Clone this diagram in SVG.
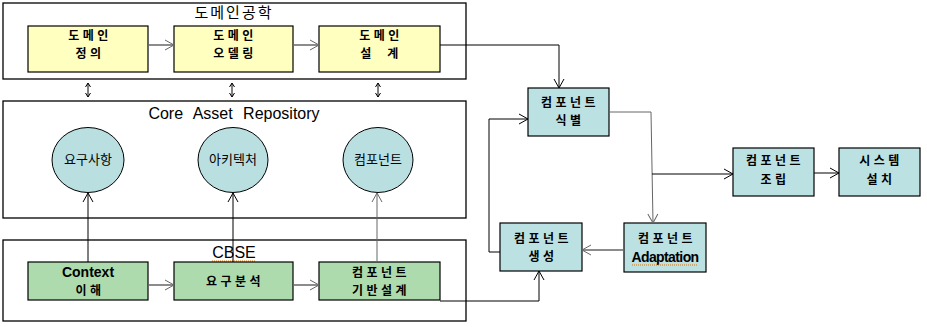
<svg xmlns="http://www.w3.org/2000/svg" width="927" height="327" viewBox="0 0 927 327">
<style>
.cont{fill:#fff;stroke:#000;stroke-width:1.3}
.yel{fill:#FFFFC0;stroke:#000;stroke-width:1.2}
.grn{fill:#ADDBAD;stroke:#000;stroke-width:1.2}
.cyn{fill:#BCE1E3;stroke:#000;stroke-width:1.2}
.cir{fill:#B9DFE1;stroke:#000;stroke-width:1}
.title{font-family:"Liberation Sans","Noto Sans CJK KR",sans-serif;font-size:15px;fill:#000;text-anchor:middle}
.lbl{font-family:"Noto Sans CJK KR","Liberation Sans",sans-serif;font-size:12px;font-weight:bold;fill:#000;text-anchor:middle;letter-spacing:3.5px}
.lat{font-family:"Liberation Sans","Noto Sans CJK KR",sans-serif;font-size:14px;font-weight:bold;fill:#000;text-anchor:middle}
.ctx{font-family:"Noto Sans CJK KR","Liberation Sans",sans-serif;font-size:13px;fill:#000;text-anchor:middle}
.ln{fill:none;stroke:#000;stroke-width:1}
.gl{fill:none;stroke:#666;stroke-width:1.5}
.sq{fill:none;stroke:#E07000;stroke-width:1;stroke-dasharray:1 1}
</style>
<defs>
<marker id="ah" markerUnits="userSpaceOnUse" markerWidth="12" markerHeight="12" refX="9" refY="5" orient="auto" overflow="visible">
<path d="M0,0 L9,5 L0,10" fill="none" stroke="#000" stroke-width="1"/>
</marker>
<marker id="ahg" markerUnits="userSpaceOnUse" markerWidth="12" markerHeight="12" refX="9" refY="5" orient="auto" overflow="visible">
<path d="M0,0 L9,5 L0,10" fill="none" stroke="#666" stroke-width="1"/>
</marker>
<marker id="sm" markerUnits="userSpaceOnUse" markerWidth="8" markerHeight="8" refX="4" refY="2.5" orient="auto-start-reverse" overflow="visible">
<path d="M0,0 L4,2.5 L0,5" fill="none" stroke="#000" stroke-width="1"/>
</marker>
</defs>

<g id="domain-engineering">
<rect class="cont" x="3" y="3" width="463" height="76"/>
<text class="title" x="234" y="18" style="letter-spacing:2px">도메인공학</text>
</g>
<g id="core-asset-repository">
<rect class="cont" x="3" y="101" width="463" height="117"/>
<text class="title" x="234" y="119" style="font-size:16px;word-spacing:6px">Core Asset Repository</text>
</g>
<g id="cbse">
<rect class="cont" x="3" y="240" width="463" height="81"/>
<text class="title" x="234" y="258" style="font-size:16px">CBSE</text>
<path class="sq" d="M212,261 L256,261"/>
</g>

<g id="domain-def">
<rect class="yel" x="28" y="26" width="120" height="46"/>
<text class="lbl" x="90" y="40">도메인</text>
<text class="lbl" x="90" y="58">정의</text>
</g>
<g id="domain-model">
<rect class="yel" x="174" y="26" width="119" height="46"/>
<text class="lbl" x="235" y="40">도메인</text>
<text class="lbl" x="235" y="58">오델링</text>
</g>
<g id="domain-design">
<rect class="yel" x="319" y="26" width="121" height="46"/>
<text class="lbl" x="381" y="40">도메인</text>
<text class="lbl" x="381" y="58" xml:space="preserve">설  계</text>
</g>

<g id="req">
<ellipse class="cir" cx="88" cy="160" rx="36" ry="32.5"/>
<text class="ctx" x="88" y="164">요구사항</text>
</g>
<g id="arch">
<ellipse class="cir" cx="233" cy="160" rx="35" ry="32.5"/>
<text class="ctx" x="233" y="164">아키텍처</text>
</g>
<g id="comp">
<ellipse class="cir" cx="378" cy="160" rx="35" ry="32.5"/>
<text class="ctx" x="378" y="164">컴포넌트</text>
</g>

<g id="context">
<rect class="grn" x="28" y="262" width="120" height="38"/>
<text class="lat" x="88" y="277">Context</text>
<text class="lbl" x="90" y="295">이해</text>
</g>
<g id="req-analysis">
<rect class="grn" x="174" y="262" width="119" height="38"/>
<text class="lbl" x="235" y="286">요구분석</text>
</g>
<g id="comp-design">
<rect class="grn" x="319" y="262" width="121" height="38"/>
<text class="lbl" x="381" y="277">컴포넌트</text>
<text class="lbl" x="381" y="295">기반설계</text>
</g>

<g id="comp-identify">
<rect class="cyn" x="528" y="88" width="81" height="48"/>
<text class="lbl" x="570" y="107">컴포넌트</text>
<text class="lbl" x="570" y="125">식별</text>
</g>
<g id="comp-assembly">
<rect class="cyn" x="733" y="148" width="81" height="48"/>
<text class="lbl" x="775" y="165">컴포넌트</text>
<text class="lbl" x="775" y="184">조립</text>
</g>
<g id="system-install">
<rect class="cyn" x="839" y="148" width="81" height="48"/>
<text class="lbl" x="881" y="165">시스템</text>
<text class="lbl" x="881" y="184">설치</text>
</g>
<g id="comp-create">
<rect class="cyn" x="500" y="223" width="82" height="48"/>
<text class="lbl" x="543" y="243">컴포넌트</text>
<text class="lbl" x="543" y="261">생성</text>
</g>
<g id="comp-adapt">
<rect class="cyn" x="624" y="223" width="82" height="49"/>
<text class="lbl" x="667" y="243">컴포넌트</text>
<text x="665" y="262" style="font-family:'Liberation Sans',sans-serif;font-size:14px;fill:#000;text-anchor:middle;letter-spacing:-0.6px;font-weight:bold">Adaptation</text>
<path class="sq" d="M632,265 L698,265"/>
</g>

<g id="connectors">
<path class="gl" d="M148,45 L174,45" marker-end="url(#ahg)"/>
<path class="gl" d="M293,45 L319,45" marker-end="url(#ahg)"/>
<path class="ln" d="M440,45 L559,45 L559,88" marker-end="url(#ah)"/>
<path class="ln" d="M88,83 L88,97" marker-start="url(#sm)" marker-end="url(#sm)"/>
<path class="ln" d="M232,83 L232,97" marker-start="url(#sm)" marker-end="url(#sm)"/>
<path class="ln" d="M378,83 L378,97" marker-start="url(#sm)" marker-end="url(#sm)"/>
<path class="ln" d="M88,262 L88,193" marker-end="url(#ah)"/>
<path class="ln" d="M233,262 L233,193" marker-end="url(#ah)"/>
<path class="gl" d="M377,262 L377,193" marker-end="url(#ahg)" style="stroke-width:1"/>
<path class="gl" d="M148,285 L174,285" marker-end="url(#ahg)"/>
<path class="gl" d="M293,285 L319,285" marker-end="url(#ahg)"/>
<path class="ln" d="M440,301 L539,301 L539,271" marker-end="url(#ah)"/>
<path class="gl" d="M609,112 L651,112 L653,223" marker-end="url(#ahg)" style="stroke-width:1"/>
<path class="ln" d="M652,174 L733,174" marker-end="url(#ah)"/>
<path class="ln" d="M814,173 L839,173" marker-end="url(#ah)"/>
<path class="gl" d="M624,250 L582,250" marker-end="url(#ahg)"/>
<path class="ln" d="M500,252 L489,252 L489,119 L528,119" marker-end="url(#ah)"/>
</g>
</svg>
